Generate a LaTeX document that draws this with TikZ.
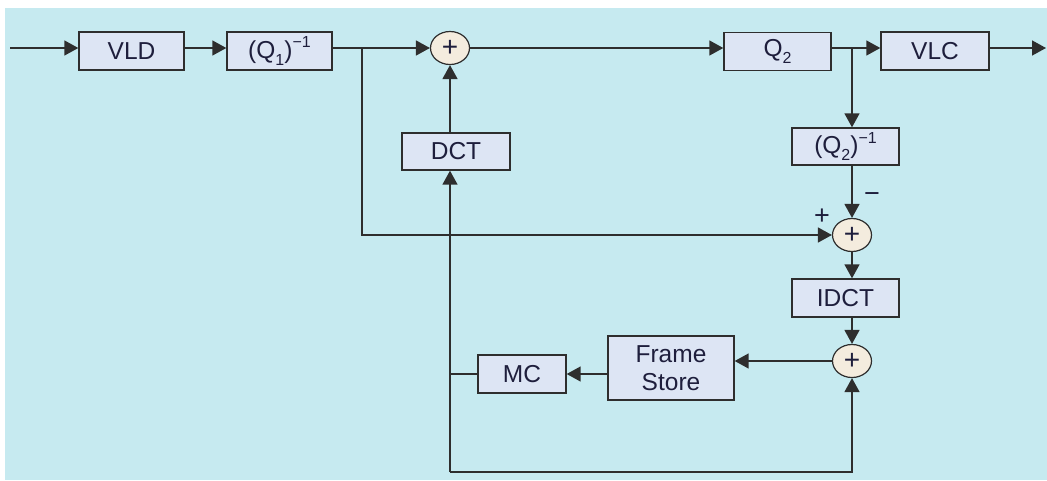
\documentclass[tikz,border=0pt]{standalone}
\usepackage{fontspec}
\setmainfont{Liberation Sans}
\usetikzlibrary{arrows.meta,calc,shapes.geometric}
\definecolor{bgc}{HTML}{C6EAF0}
\definecolor{boxc}{HTML}{DDE5F4}
\definecolor{sumc}{HTML}{F4ECDE}
\definecolor{linec}{HTML}{2E2E2E}
\definecolor{txtc}{HTML}{1E1E3C}
\newcommand{\supm}[1]{\raisebox{0.42em}{\fontsize{16}{16}\selectfont #1}}
\newcommand{\subm}[1]{\raisebox{-0.28em}{\fontsize{16}{16}\selectfont #1}}
\begin{document}
\begin{tikzpicture}[x=1pt,y=-1pt,
  blk/.style={draw=linec,fill=boxc,line width=1.4pt,minimum height=38pt,inner sep=0pt,
    text=txtc,font=\fontsize{24.5}{28}\selectfont,align=center},
  sumn/.style={ellipse,draw=linec,fill=sumc,line width=1.2pt,minimum width=39pt,minimum height=33pt,inner sep=0pt,
    text=txtc,font=\fontsize{28}{28}\selectfont},
  lbl/.style={text=txtc,font=\fontsize{27}{27}\selectfont,inner sep=0pt},
  conn/.style={draw=linec,line width=1.5pt},
  arr/.style={conn,-{Triangle[length=14pt,width=15pt]}}]
\useasboundingbox (0,0) rectangle (1047,480);
\fill[bgc] (5,8) rectangle (1047,480);
% nodes
\node[blk,minimum width=105pt] (vld) at (131.5,51) {VLD};
\node[blk,minimum width=105pt] (q1i) at (279.5,51) {(Q\subm{1})\supm{−1}};
\node[sumn] (s1) at (450,48) {+};
\node[blk,minimum width=107pt] (q2) at (777.5,51.5) {Q\subm{2}};
\node[blk,minimum width=108pt] (vlc) at (935,51) {VLC};
\node[blk,minimum width=107pt,minimum height=37pt] (q2i) at (845.5,146.5) {(Q\subm{2})\supm{−1}};
\node[blk,minimum width=108pt,minimum height=37pt] (dct) at (456,151.5) {DCT};
\node[sumn] (s2) at (852,235) {+};
\node[blk,minimum width=107pt] (idct) at (845.5,298) {IDCT};
\node[sumn] (s3) at (852,361) {+};
\node[blk,minimum width=126pt,minimum height=64pt] (fs) at (671,368) {Frame\\Store};
\node[blk,minimum width=88pt] (mc) at (522,374) {MC};
\node[lbl] (plus) at (822,217) {+};
\node[lbl] (minus) at (872,198) {−};
% coordinates
\coordinate (in) at (10,48);
\coordinate (out) at (1046,48);
\coordinate (b1) at (362,48);
\coordinate (b2) at (852,48);
\coordinate (jl) at (450,374);
\coordinate (bl) at (450,472);
% connectors
\draw[arr] (in) -- (in -| vld.west);
\draw[arr] (vld.east |- in) -- (q1i.west |- in);
\draw[arr] (q1i.east |- in) -- (s1.west);
\draw[arr] (s1.east) -- (q2.west |- in);
\draw[arr] (q2.east |- in) -- (vlc.west |- in);
\draw[arr] (vlc.east |- in) -- (out);
\draw[arr] (b2) -- (b2 |- q2i.north);
\draw[arr] (b2 |- q2i.south) -- (s2.north);
\draw[arr] (b1) |- (s2.west);
\draw[arr] (s2.south) -- (s2 |- idct.north);
\draw[arr] (s2 |- idct.south) -- (s3.north);
\draw[arr] (s3.west) -- (s3.west -| fs.east);
\draw[arr] (fs.west |- mc) -- (mc.east);
\draw[conn] (mc.west) -- (jl);
\draw[arr] (bl) -- (bl |- dct.south);
\draw[arr] (s1 |- dct.north) -- (s1.south);
\draw[arr] (bl) -| (s3.south);
\end{tikzpicture}
\end{document}
